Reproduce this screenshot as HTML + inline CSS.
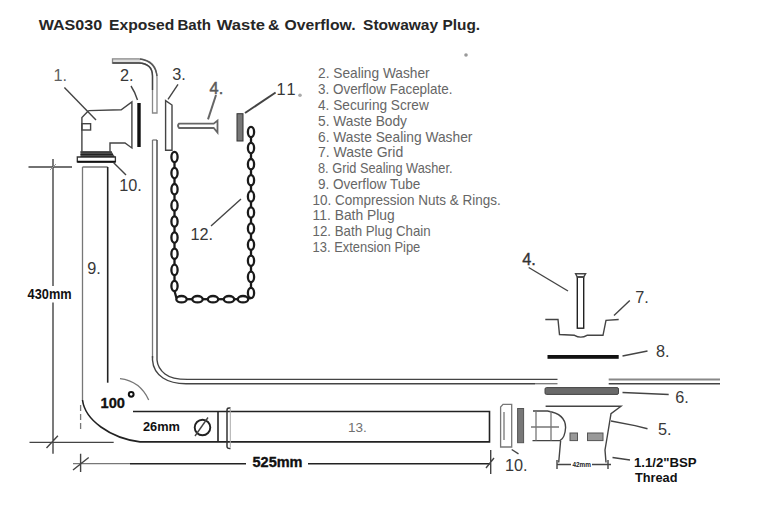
<!DOCTYPE html>
<html><head><meta charset="utf-8">
<style>
html,body{margin:0;padding:0;background:#fff;width:760px;height:528px;overflow:hidden}
svg{display:block}
text{font-family:"Liberation Sans",sans-serif}
.lb{font-size:16.3px;fill:#383838}
.bd{font-weight:bold;fill:#111}
.hv{stroke:#111;stroke-width:0.35}
.ls{font-size:14.2px;fill:#666}
.k{stroke:#222;fill:none;stroke-width:1.6}
.g{stroke:#777;fill:none;stroke-width:1.3}
.t{stroke:#444;fill:none;stroke-width:1.4}
</style></head>
<body>
<svg width="760" height="528" viewBox="0 0 760 528">
<rect width="760" height="528" fill="#fff"/>

<!-- title -->
<text x="38.7" y="29.8" class="bd" style="fill:#262626" font-size="15" textLength="63.5" lengthAdjust="spacingAndGlyphs">WAS030</text>
<text x="109.0" y="29.8" class="bd" style="fill:#262626" font-size="15" textLength="65.2" lengthAdjust="spacingAndGlyphs">Exposed</text>
<text x="177.4" y="29.8" class="bd" style="fill:#262626" font-size="15" textLength="33.6" lengthAdjust="spacingAndGlyphs">Bath</text>
<text x="216.8" y="29.8" class="bd" style="fill:#262626" font-size="15" textLength="48.3" lengthAdjust="spacingAndGlyphs">Waste</text>
<text x="268.0" y="29.8" class="bd" style="fill:#262626" font-size="15" textLength="11.5" lengthAdjust="spacingAndGlyphs">&amp;</text>
<text x="284.5" y="29.8" class="bd" style="fill:#262626" font-size="15" textLength="71.0" lengthAdjust="spacingAndGlyphs">Overflow.</text>
<text x="363.1" y="29.8" class="bd" style="fill:#262626" font-size="15" textLength="75.0" lengthAdjust="spacingAndGlyphs">Stowaway</text>
<text x="442.5" y="29.8" class="bd" style="fill:#262626" font-size="15" textLength="37.6" lengthAdjust="spacingAndGlyphs">Plug.</text>

<!-- labels -->
<text class="lb" x="53.5" y="81" style="fill:#606060">1.</text>
<text class="lb" x="120" y="80.7">2.</text>
<text class="lb" x="172.2" y="79.8">3.</text>
<text class="lb" x="209.6" y="94.3" style="fill:#5a5a5a;stroke:#5a5a5a;stroke-width:0.5">4.</text>
<text class="lb" x="276.6" y="95.2">1</text><text class="lb" x="286.4" y="95.2">1</text><circle cx="300" cy="95.3" r="1.8" fill="#aaa"/><circle cx="466" cy="55" r="1.8" fill="#999"/>
<text class="lb" x="119.2" y="190.5">10.</text>
<text class="lb" x="190.5" y="240.3">12.</text>
<text class="lb" x="87.2" y="274">9.</text>
<text class="lb" x="522.3" y="265" style="fill:#333;stroke:#333;stroke-width:0.35">4.</text>
<text class="lb" x="635.3" y="303.3">7.</text>
<text class="lb" x="656" y="356.6">8.</text>
<text class="lb" x="675.2" y="402.5">6.</text>
<text class="lb" x="658" y="434.7">5.</text>
<text class="lb" x="505" y="471.4">10.</text>
<text x="348" y="431.5" font-size="13.5" style="fill:#707070">13.</text>


<!-- bold dims -->
<text class="bd" x="27.6" y="298.7" font-size="14" textLength="44" lengthAdjust="spacingAndGlyphs">430mm</text>
<text class="bd hv" x="100.6" y="408.3" font-size="15" textLength="24.4" lengthAdjust="spacingAndGlyphs">100</text>
<circle cx="131.2" cy="394.3" r="2.4" fill="none" stroke="#111" stroke-width="2"/>
<text class="bd" x="143" y="431" font-size="12.5" textLength="37" lengthAdjust="spacingAndGlyphs">26mm</text>
<text class="bd hv" x="252.5" y="467" font-size="14" textLength="50" lengthAdjust="spacingAndGlyphs">525mm</text>
<text class="bd" x="633.9" y="466.6" font-size="12.5" textLength="62.8" lengthAdjust="spacingAndGlyphs">1.1/2"BSP</text>
<text class="bd" x="635" y="482" font-size="12.5" textLength="42.5" lengthAdjust="spacingAndGlyphs">Thread</text>

<!-- parts list -->
<g class="ls">
<text x="318.0" y="78.4" textLength="111.7" lengthAdjust="spacingAndGlyphs">2. Sealing Washer</text>
<text x="318.0" y="94.2" textLength="134.5" lengthAdjust="spacingAndGlyphs">3. Overflow Faceplate.</text>
<text x="318.0" y="110.0" textLength="110.8" lengthAdjust="spacingAndGlyphs">4. Securing Screw</text>
<text x="318.0" y="125.7" textLength="89.0" lengthAdjust="spacingAndGlyphs">5. Waste Body</text>
<text x="318.0" y="141.5" textLength="154.4" lengthAdjust="spacingAndGlyphs">6. Waste Sealing Washer</text>
<text x="318.0" y="157.3" textLength="85.2" lengthAdjust="spacingAndGlyphs">7. Waste Grid</text>
<text x="318.0" y="173.1" textLength="134.5" lengthAdjust="spacingAndGlyphs">8. Grid Sealing Washer.</text>
<text x="318.0" y="188.9" textLength="102.3" lengthAdjust="spacingAndGlyphs">9. Overflow Tube</text>
<text x="312.6" y="204.6" textLength="188.2" lengthAdjust="spacingAndGlyphs">10. Compression Nuts &amp; Rings.</text>
<text x="312.6" y="220.4" textLength="82.1" lengthAdjust="spacingAndGlyphs">11. Bath Plug</text>
<text x="312.6" y="236.2" textLength="118.1" lengthAdjust="spacingAndGlyphs">12. Bath Plug Chain</text>
<text x="312.6" y="252.0" textLength="107.7" lengthAdjust="spacingAndGlyphs">13. Extension Pipe</text>
</g>

<!-- ===== drawing ===== -->
<!-- waste elbow item 1 -->
<path class="t" d="M88.7,110.6 L121.2,109.8 L131.9,102 L131.9,148 L125,143 L110,143 L110,151.5"/>
<path class="t" d="M88.7,110.6 L81.9,117.5 L81.9,151.5"/>
<rect class="t" x="81.9" y="123.7" width="8.7" height="6.3"/>
<rect x="137.3" y="103" width="3.4" height="44" fill="#111"/>
<path d="M80.5,151.3 L111.5,151.3 L114.5,156.6 L80.5,156.6 Z" fill="#5a5a5a"/><path d="M80.5,152 L111.8,152 M80.5,154.3 L113,154.3 M80.5,156.3 L114.5,156.3" stroke="#222" stroke-width="1.2"/>
<path d="M77.3,157 L115.4,157 L115.4,161.8 L77.3,161.8 Z" fill="#fff" stroke="#333" stroke-width="1.3"/><path d="M77.3,161.8 L115.4,161.8" stroke="#111" stroke-width="2"/>
<path class="t" d="M64.4,87.5 L96,120"/>
<path class="t" d="M131,86 Q135,92 137.5,100"/>
<path class="t" d="M113.7,162.7 L126,175"/>

<!-- overflow upper -->
<rect x="112.5" y="58.8" width="28" height="4.2" fill="#ddd"/><path d="M112.5,58.8 L138.7,58.8 Q157,60 157,78 L157,113 L152.5,113 L152.5,76 Q152.5,63.5 138.7,63 L112.5,63 Z" fill="none" stroke="#888" stroke-width="1.3"/><path d="M112.5,63 L138.7,63 Q152.5,63.5 152.5,76 L152.5,90" fill="none" stroke="#444" stroke-width="1.4"/><path d="M140,59 Q155,61 157,76" fill="none" stroke="#555" stroke-width="1.4"/>
<!-- overflow lower -->
<path class="g" d="M152.5,140 L157,140"/>
<path class="g" d="M152.5,140 L152.5,358"/><path class="t" d="M152.5,356 L152.5,360 C153,368 157,374 163,378 C169,382 176,383.7 186,383.7 L535,383.7"/>
<path class="g" d="M535,383.7 L557.5,383.7"/>
<path class="t" d="M157,140 L157,360 C157.5,366 160,370 165,374 C170,378 178,379.4 187.5,379.4 L557.5,379.4"/>
<path d="M608.7,379.5 L720,379.5" stroke="#888" stroke-width="1.8"/><path class="t" d="M608.7,383.7 L720,383.7"/>

<!-- faceplate item 3 -->
<path class="t" d="M165.6,150.3 L165.6,100.6 L172,105 L172,150.3 Z"/>
<path class="t" d="M168,99.4 L178,84.4"/>

<!-- screw item 4 -->
<path d="M213.7,123.7 L179,123.7 Q177,125.8 179,128 L213.7,128 L217.5,132.5 L217.5,120.6 Z" fill="#fff" stroke="#666" stroke-width="1.8"/>
<path d="M208,119.4 L216,95" stroke="#666" stroke-width="2" fill="none"/>

<!-- plug item 11 -->
<rect x="237" y="113.7" width="6" height="27.3" fill="#777" stroke="#333" stroke-width="1"/>
<path d="M245,113 L275.6,92.5" stroke="#444" stroke-width="2" fill="none"/>

<!-- chains -->
<g id="chain" stroke="#1a1a1a" stroke-width="2.3" fill="none">
<ellipse cx="174.5" cy="157.0" rx="3.1" ry="5.2"/>
<path d="M174.5,162.0 L174.5,168.1"/>
<ellipse cx="174.5" cy="173.1" rx="3.1" ry="5.2"/>
<path d="M174.5,178.1 L174.5,184.2"/>
<ellipse cx="174.5" cy="189.2" rx="3.1" ry="5.2"/>
<path d="M174.5,194.2 L174.5,200.4"/>
<ellipse cx="174.5" cy="205.4" rx="3.1" ry="5.2"/>
<path d="M174.5,210.4 L174.5,216.5"/>
<ellipse cx="174.5" cy="221.5" rx="3.1" ry="5.2"/>
<path d="M174.5,226.5 L174.5,232.6"/>
<ellipse cx="174.5" cy="237.6" rx="3.1" ry="5.2"/>
<path d="M174.5,242.6 L174.5,248.8"/>
<ellipse cx="174.5" cy="253.8" rx="3.1" ry="5.2"/>
<path d="M174.5,258.8 L174.5,264.9"/>
<ellipse cx="174.5" cy="269.9" rx="3.1" ry="5.2"/>
<path d="M174.5,274.9 L174.5,281.0"/>
<ellipse cx="174.5" cy="286.0" rx="3.1" ry="5.2"/>
<ellipse cx="251.0" cy="132.0" rx="3.1" ry="5.2"/>
<path d="M251.0,137.0 L251.0,143.1"/>
<ellipse cx="251.0" cy="148.1" rx="3.1" ry="5.2"/>
<path d="M251.0,153.1 L251.0,159.2"/>
<ellipse cx="251.0" cy="164.2" rx="3.1" ry="5.2"/>
<path d="M251.0,169.2 L251.0,175.3"/>
<ellipse cx="251.0" cy="180.3" rx="3.1" ry="5.2"/>
<path d="M251.0,185.3 L251.0,191.4"/>
<ellipse cx="251.0" cy="196.4" rx="3.1" ry="5.2"/>
<path d="M251.0,201.4 L251.0,207.5"/>
<ellipse cx="251.0" cy="212.5" rx="3.1" ry="5.2"/>
<path d="M251.0,217.5 L251.0,223.6"/>
<ellipse cx="251.0" cy="228.6" rx="3.1" ry="5.2"/>
<path d="M251.0,233.6 L251.0,239.7"/>
<ellipse cx="251.0" cy="244.7" rx="3.1" ry="5.2"/>
<path d="M251.0,249.7 L251.0,255.8"/>
<ellipse cx="251.0" cy="260.8" rx="3.1" ry="5.2"/>
<path d="M251.0,265.8 L251.0,271.9"/>
<ellipse cx="251.0" cy="276.9" rx="3.1" ry="5.2"/>
<path d="M251.0,281.9 L251.0,288.0"/>
<ellipse cx="251.0" cy="293.0" rx="3.1" ry="5.2"/>
<ellipse cx="181.5" cy="299.2" rx="5.2" ry="3.2"/>
<path d="M186.5,299.2 L192.5,299.2"/>
<ellipse cx="197.5" cy="299.2" rx="5.2" ry="3.2"/>
<path d="M202.5,299.2 L208.0,299.2"/>
<ellipse cx="213.0" cy="299.2" rx="5.2" ry="3.2"/>
<path d="M218.0,299.2 L224.0,299.2"/>
<ellipse cx="229.0" cy="299.2" rx="5.2" ry="3.2"/>
<path d="M234.0,299.2 L238.0,299.2"/>
<ellipse cx="243.0" cy="299.2" rx="5.2" ry="3.2"/>
<path d="M174.5,291 L176.5,298.3 M248,298.3 L251,298"/>

</g>
<path class="t" d="M211,226 L241,199"/>

<!-- left dims -->
<path class="t" d="M28.5,167 L72,167 M53,159 L53,286 M53,302.5 L53,453.7 M29.5,442.4 L113.7,442.4 M46.5,448 L57.9,435.7"/><path d="M50,170 L56,164" stroke="#999" stroke-width="1"/>

<!-- pipe 9 -->
<path class="g" d="M82.5,167 L107.7,167 M82.5,167 L82.5,400"/>
<path class="k" d="M107.7,167 L107.7,382.7"/>
<path class="k" d="M82.5,400 C85,420 110,438 140,441.9 L489.5,441.9 L489.5,411.5 L133,411.5"/>
<path class="g" d="M80.6,405 L80.6,431" stroke-dasharray="6,3"/>
<path class="k" d="M218,411.5 L218,441.9"/>
<path d="M230.5,408 Q227,407.5 227,410 L227,446.5 Q227,448.8 230.5,448.5" fill="none" stroke="#333" stroke-width="1.5"/><path d="M230.3,409 L230.3,447.5" stroke="#aaa" stroke-width="1"/>
<circle cx="202.5" cy="427.5" r="7.8" fill="none" stroke="#222" stroke-width="1.9"/>
<path class="t" d="M195,436 L208,417.5"/>
<path class="g" d="M120,378.7 Q140,381 148.7,400"/>

<!-- 525 dim -->
<path class="g" d="M73,463.7 L130,463.7"/><path class="k" d="M130,463.7 L246,463.7 M308,463.7 L490.5,463.7"/>
<path class="t" d="M80.6,453.7 L80.6,471.9 M73,470 L88.7,457.5 M490.7,450 L490.7,474 M486,468 L494,458"/>

<!-- nut 10 right -->
<path class="g" d="M503,404.3 L511.7,404.3 L511.7,447 L500.6,447 L500.6,407 Z M504,412 L504,440"/>
<rect x="517.6" y="408.5" width="6" height="34.2" fill="#777" stroke="#555" stroke-width="1"/>
<path class="t" d="M511.7,449.5 L518.5,453.8"/>

<!-- waste body item 5 -->
<path class="t" d="M533,411 L547.5,411 Q565.6,414 565.6,427.5 Q565,438 560,440.6 L532.5,440.6"/>
<path class="g" d="M536,411 L536,440.6 M551,411 L551,440.6 M531,427 L559,427"/>
<path class="t" d="M545.6,406.2 L621,406.2 L611,413.7 L607.5,435 L605,450 L606,462.5 M560.6,441 L558.7,462.5"/>
<rect x="570" y="433" width="7.5" height="7.6" fill="#999" stroke="#555" stroke-width="1"/>
<rect x="587.5" y="433" width="15.5" height="7.6" fill="#999" stroke="#555" stroke-width="1"/>
<path class="t" d="M557,464.5 L611,464.5 M557,460 L557,469 M608,460 L608,469"/>
<rect x="571" y="460" width="21" height="9" fill="#fff"/><text x="572.5" y="467" font-size="7" font-weight="bold" style="fill:#222" textLength="18.5" lengthAdjust="spacingAndGlyphs">42mm</text>
<path class="t" d="M611,421 L635,425.6 L647.5,428.7 M612.5,457.5 L630,460"/>

<!-- washer 6 -->
<rect x="545" y="387.6" width="73.5" height="6.8" rx="1.5" fill="#6a6a6a" stroke="#444" stroke-width="1"/>
<path class="t" d="M622.5,392.5 L668.7,394.5"/>
<!-- bar 8 -->
<rect x="547.5" y="355" width="71.2" height="3.8" fill="#111"/>
<path class="t" d="M622.5,356 L647.5,351"/>
<!-- grid 7 -->
<path class="t" d="M545.3,319.5 L558,319.5 L559.5,334.5 L574.5,335.3 Q580.8,339 587,335.3 L603,335.3 L606,320.3 L618.7,319.5"/>
<path class="t" d="M614,315.5 L629.8,300.5"/>
<!-- screw 4 right -->
<rect x="577.3" y="277" width="6.4" height="51.2" fill="none" stroke="#222" stroke-width="1.4"/>
<path class="t" d="M575.6,273.7 L585.6,273.7 L583.7,277 L577.3,277 Z"/>
<path class="t" d="M528.7,267.5 L568,291"/>

</svg>
</body></html>
